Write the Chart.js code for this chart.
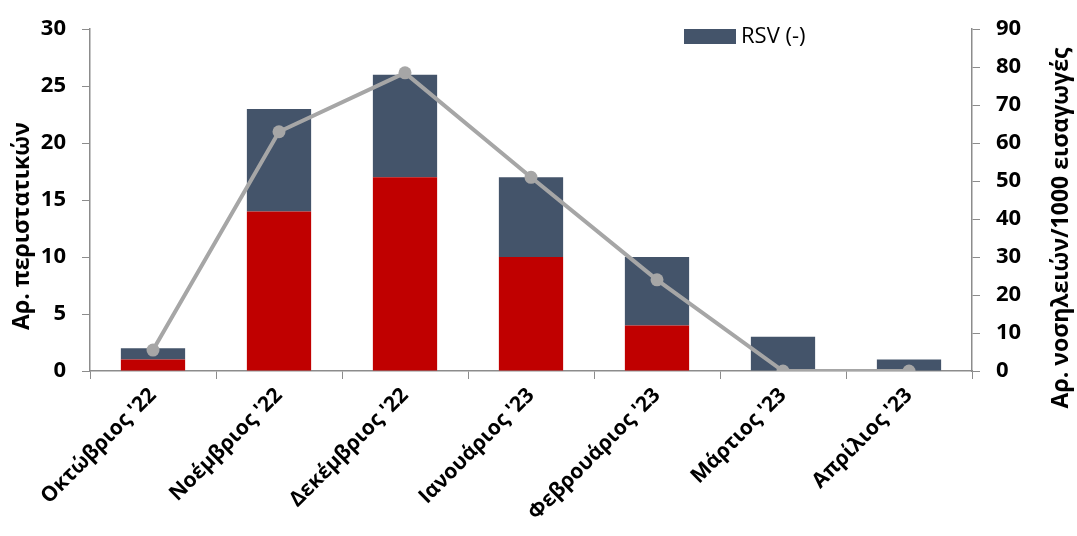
<!DOCTYPE html>
<html>
<head>
<meta charset="utf-8">
<script src="https://cdn.jsdelivr.net/npm/chart.js@4.4.1/dist/chart.umd.min.js"></script>
<style>
  html, body { margin: 0; padding: 0; background: #fff; }
  #wrap { width: 1077px; height: 536px; }
</style>
</head>
<body>
<div id="wrap"><canvas id="c" width="1077" height="536"></canvas></div>
<script>
// Months of the 2022-23 season
const months = ["Οκτώβριος '22", "Νοέμβριος '22", "Δεκέμβριος '22", "Ιανουάριος '23", "Φεβρουάριος '23", "Μάρτιος '23", "Απρίλιος '23"];
// Case counts per month (stacked)
const rsvPositive = [1, 14, 17, 10, 4, 0, 0];
const rsvNegative = [1, 9, 9, 7, 6, 3, 1];
// Hospitalisations per 1000 admissions (right axis)
const hospRate = [5.5, 63, 78.5, 51, 24, 0, 0];

const leftTicks = [0, 5, 10, 15, 20, 25, 30];
const rightTicks = [0, 10, 20, 30, 40, 50, 60, 70, 80, 90];

const leftTitle = 'Αρ. περιστατικών';
const rightTitleText = 'Αρ. νοσηλειών/1000 εισαγωγές';

const FONT = "'Open Sans'";
const AXIS_GREY = "#8c8c8c";

// Legend entry drawn inside the plot area
const innerLegend = {
  id: 'innerLegend',
  afterDraw(chart) {
    const ctx = chart.ctx;
    const ds = chart.data.datasets.find(d => d.label === 'RSV (-)');
    ctx.save();
    ctx.fillStyle = ds.backgroundColor;
    ctx.fillRect(684, 29, 52, 15);
    ctx.fillStyle = "#000";
    ctx.font = "22px " + FONT;
    ctx.textBaseline = "middle";
    ctx.textAlign = "left";
    ctx.fillText(ds.label, 741, 37);
    ctx.restore();
  }
};

// Vertical axis titles, both reading bottom to top
const axisTitles = {
  id: 'axisTitles',
  afterDraw(chart) {
    const ctx = chart.ctx;
    const drawTitle = (text, x, y) => {
      ctx.save();
      ctx.translate(x, y);
      ctx.rotate(-Math.PI / 2);
      ctx.font = "bold 23px " + FONT;
      ctx.fillStyle = "#000";
      ctx.textAlign = "center";
      ctx.textBaseline = "middle";
      ctx.fillText(text, 0, 0);
      ctx.restore();
    };
    drawTitle(leftTitle, 22, 226);
    drawTitle(rightTitleText, 1061, 228);
  }
};

new Chart(document.getElementById('c'), {
  data: {
    labels: months,
    datasets: [
      {
        type: 'line',
        label: 'Νοσηλείες/1000 εισαγωγές',
        data: hospRate,
        yAxisID: 'y1',
        borderColor: '#a6a6a6',
        backgroundColor: '#a6a6a6',
        borderWidth: 4,
        pointRadius: 6.5,
        pointHoverRadius: 6.5,
        pointBackgroundColor: '#a6a6a6',
        pointBorderWidth: 0,
        tension: 0,
        order: 0
      },
      {
        type: 'bar',
        label: 'RSV (+)',
        data: rsvPositive,
        backgroundColor: '#c00000',
        stack: 's',
        yAxisID: 'y',
        barPercentage: 0.51,
        categoryPercentage: 1,
        order: 1
      },
      {
        type: 'bar',
        label: 'RSV (-)',
        data: rsvNegative,
        backgroundColor: '#44546a',
        stack: 's',
        yAxisID: 'y',
        barPercentage: 0.51,
        categoryPercentage: 1,
        order: 2
      }
    ]
  },
  options: {
    responsive: false,
    animation: false,
    devicePixelRatio: 1,
    layout: { padding: { top: 14, left: 0, right: 0, bottom: 0 } },
    plugins: {
      legend: { display: false },
      tooltip: { enabled: false }
    },
    scales: {
      x: {
        stacked: true,
        offset: true,
        grid: {
          offset: true,
          drawOnChartArea: false,
          drawTicks: true,
          tickLength: 8,
          color: AXIS_GREY
        },
        border: { color: AXIS_GREY, width: 1.5 },
        ticks: {
          color: '#000',
          font: { family: FONT, size: 21, weight: 'bold' },
          minRotation: 45,
          maxRotation: 45,
          padding: 4
        },
        afterFit(s) { s.height = 165; }
      },
      y: {
        stacked: true,
        position: 'left',
        min: 0,
        max: 30,
        afterBuildTicks(s) { s.ticks = leftTicks.map(v => ({ value: v })); },
        grid: {
          drawOnChartArea: false,
          drawTicks: true,
          tickLength: 8,
          color: AXIS_GREY
        },
        border: { color: AXIS_GREY, width: 1.5 },
        ticks: {
          color: '#000',
          font: { family: FONT, size: 22, weight: 'bold' },
          padding: 16
        },
        afterFit(s) { s.width = 90; }
      },
      y1: {
        position: 'right',
        min: 0,
        max: 90,
        afterBuildTicks(s) { s.ticks = rightTicks.map(v => ({ value: v })); },
        grid: {
          drawOnChartArea: false,
          drawTicks: true,
          tickLength: 8,
          color: AXIS_GREY
        },
        border: { color: AXIS_GREY, width: 1.5 },
        ticks: {
          color: '#000',
          font: { family: FONT, size: 22, weight: 'bold' },
          padding: 16
        },
        afterFit(s) { s.width = 105; }
      }
    }
  },
  plugins: [innerLegend, axisTitles]
});
</script>
</body>
</html>
